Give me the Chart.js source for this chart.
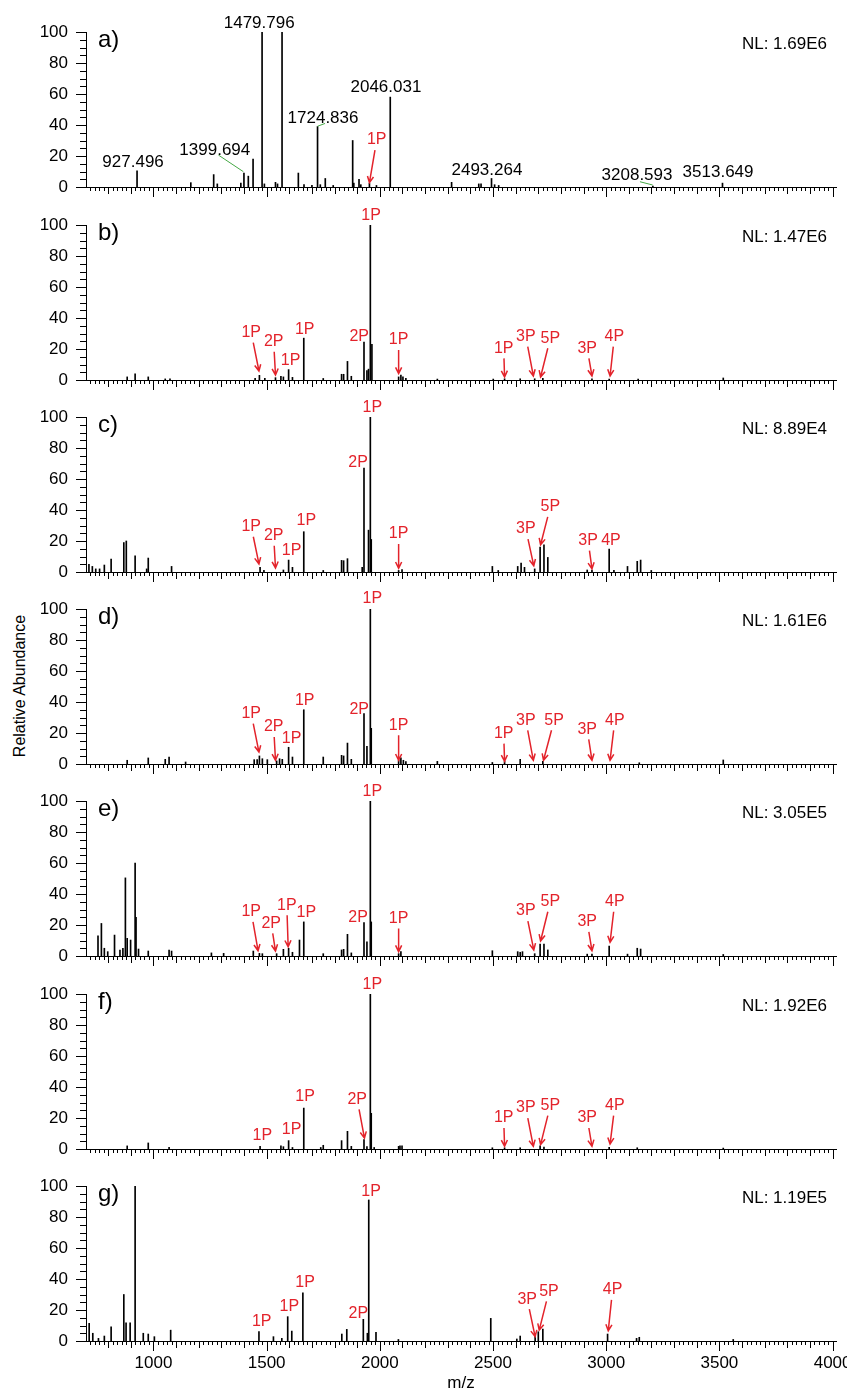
<!DOCTYPE html>
<html>
<head>
<meta charset="utf-8">
<script src="https://cdn.jsdelivr.net/npm/chart.js@4.4.0/dist/chart.umd.min.js"></script>
<style>
  html, body { margin: 0; padding: 0; background: #fff; }
  #wrap { position: relative; width: 847px; height: 1394px; overflow: hidden; font-family: "Liberation Sans", Arial, sans-serif; }
  #wrap canvas { position: absolute; left: 0; }
  #ylab { position: absolute; left: 20px; top: 686px; transform: translate(-50%, -50%) rotate(-90deg); font-size: 16px; white-space: nowrap; color: #000; }
</style>
</head>
<body>
<div id="wrap">
  <div id="ylab">Relative Abundance</div>
</div>
<script>
const FONT = '"Liberation Sans", Arial, sans-serif';
const RED = '#e3232b';
const GREEN = '#45a845';

const panelNames = ['a)', 'b)', 'c)', 'd)', 'e)', 'f)', 'g)'];
const nlValues = ['1.69E6', '1.47E6', '8.89E4', '1.61E6', '3.05E5', '1.92E6', '1.19E5'];
const xTickLabels = [1000, 1500, 2000, 2500, 3000, 3500, 4000];
const yTickLabels = [0, 20, 40, 60, 80, 100];

// peaks: [m/z, relative abundance]
const peaksA = [[927.5,10.4],[1165,2.8],[1266,8],[1282,2],[1386,2.5],[1399.7,9],[1419,7],[1440,18],[1479.8,100],[1490,2],
  [1539,3],[1548,2],[1568,100],[1640,9],[1665,1.5],[1700,1],[1724.8,39],[1737,1.5],[1759,5.5],[1794,1],
  [1880,30],[1885,2.5],[1908,5],[1916,1.5],[1954,2.5],[1985,1],[2046.0,58],[2317,3],[2437,2],[2447,2],
  [2493.3,5.5],[2507,1.5],[2525,1],[3206,0.6],[3513.6,2.5]];
const peaksB = [[884,2],[919,4],[977,2],[1052,0.7],[1073,0.7],[1449,1],[1468,3],[1492,1],[1539,1.5],[1563,2.4],
  [1574,2],[1597,6.7],[1614,1.7],[1664,27],[1750,1],[1831,3.7],[1840,3.7],[1857,12],[1874,2.4],[1930,24.5],
  [1943,6],[1950,7],[1958,100],[1965,23],[2083,2],[2093,3.2],[2102,2],[2115,1],[2254,0.6],[2501,0.6],
  [2551,0.8],[2620,0.8],[2684,0.8],[2720,1],[2937,0.8],[3013,0.6],[3141,0.6],[3517,1.3]];
const peaksC = [[715,5],[730,3.6],[745,2],[762,2],[783,4.5],[813,8.4],[869,19],[880,20],[919,10.5],[970,2],
  [977,9],[1080,3.6],[1471,3],[1488,1],[1574,1.3],[1597,7.7],[1614,3],[1664,26],[1750,1],[1831,7.5],
  [1840,7.3],[1857,8.6],[1922,3],[1930,67],[1950,27],[1958,100],[1962,21],[2083,1],[2098,1.5],[2497,3.6],
  [2523,1],[2609,3.6],[2624,5.8],[2639,3],[2684,2],[2708,16],[2725,17.6],[2742,9.4],[2916,1.3],[2937,1.3],
  [3013,14.8],[3034,1],[3094,3.6],[3137,6.9],[3152,7.7],[3199,1]];
const peaksD = [[884,2.4],[977,3.9],[1052,3],[1069,4.5],[1142,1.3],[1445,2.8],[1458,2.8],[1468,5.2],[1481,3.4],[1503,2.8],
  [1544,2],[1557,3.4],[1569,3],[1597,10.8],[1614,4.5],[1664,35],[1750,4.5],[1831,5.6],[1840,5.2],[1857,13.5],
  [1874,3],[1930,32.5],[1943,11.4],[1958,100],[1962,23],[2083,2.4],[2093,4],[2104,2.4],[2115,1.5],[2254,1.7],
  [2497,1],[2551,1.7],[2620,3],[2720,1.7],[3146,0.8],[3517,2.6]];
const peaksE = [[755,13],[770,21],[783,5],[798,2.8],[828,13.5],[852,3.9],[865,5],[876,50.4],[884,11.4],[899,10.3],
  [919,60],[923,25],[934,4.5],[977,3.2],[1069,3.9],[1080,3.2],[1256,2],[1310,1.7],[1441,3.2],[1468,1.7],
  [1481,1.5],[1544,1.5],[1574,4.3],[1597,5],[1614,2.4],[1645,10.3],[1664,22],[1750,1.5],[1831,3.9],[1840,4.3],
  [1857,14],[1874,2],[1930,21.5],[1943,9.2],[1958,100],[1962,22],[2083,1.5],[2093,2.8],[2497,3.4],[2609,2.8],
  [2620,2.4],[2630,2.8],[2684,1.5],[2708,7.7],[2725,7.7],[2742,3.9],[2916,1.2],[2937,1.2],[3013,6.4],[3094,1.2],
  [3137,5],[3152,4.5],[3517,1]];
const peaksF = [[884,2],[977,3.9],[1069,1],[1471,1.7],[1563,2],[1574,1.5],[1597,5.4],[1614,1],[1664,26.4],[1739,1],
  [1750,2.4],[1831,5.4],[1857,11.4],[1874,1.7],[1930,6],[1943,1.5],[1958,100],[1962,23],[1975,1],[2083,1.7],
  [2089,2],[2098,2],[2497,0.8],[2551,0.8],[2620,0.8],[2708,2],[2725,1.2],[3013,1],[3137,0.8],[3517,0.6]];
const peaksG = [[716,11.4],[732,5],[757,1.7],[783,3.2],[813,9.2],[869,30],[879,11.8],[897,11.8],[919,100],[955,5],
  [977,4.5],[1004,2.8],[1076,7],[1466,6],[1530,2.8],[1567,1.7],[1593,15.7],[1611,6.4],[1660,31],[1832,4.5],
  [1854,7.5],[1927,14],[1945,5],[1951,91],[1983,5.6],[2082,1],[2490,14.6],[2605,1.3],[2620,3.2],[2686,5],
  [2700,6],[2720,7.7],[3006,4.5],[3134,1.7],[3146,2.4],[3561,1]];

// m/z labels of panel a: [text, label m/z, label y, optional leader [m/z, y, m/z, y]]
const massLabelsA = [
  ['927.496', 910, 15.7],
  ['1399.694', 1271, 23.4, [1287, 20.6, 1397, 9.9]],
  ['1479.796', 1467, 105.6],
  ['1724.836', 1749, 44.5, [1725, 39.2, 1758, 41]],
  ['2046.031', 2027, 64],
  ['2493.264', 2473, 11],
  ['3208.593', 3136, 7.7, [3149, 3.4, 3205, 1.3]],
  ['3513.649', 3494, 9.2]
];

// phospho tags: [text, label m/z, label y, arrow tip m/z, arrow tip y]
const tagsA = [['1P', 1986, 30.3, 1954, 2.8]];
const tagsB = [['1P', 1432, 30.5, 1466, 5.8], ['2P', 1531, 24.7, 1539, 3.2], ['1P', 1606, 12.3], ['1P', 1668, 32.7],
  ['2P', 1909, 28], ['1P', 1961, 105.8], ['1P', 2083, 25.8, 2083, 4.1], ['1P', 2547, 20.4, 2551, 1.9],
  ['3P', 2645, 28, 2678, 2.6], ['5P', 2753, 26.9, 2710, 1.9], ['3P', 2916, 20.4, 2937, 2.6], ['4P', 3036, 28, 3017, 2.6]];
const tagsC = [['1P', 1967, 106], ['2P', 1904, 70.6], ['1P', 1432, 29.2, 1466, 5.2], ['2P', 1531, 23.4, 1539, 2.6],
  ['1P', 1610, 13.7], ['1P', 1675, 33], ['1P', 2083, 24.5, 2083, 2.4], ['3P', 2645, 27.7, 2680, 4],
  ['5P', 2753, 42, 2710, 17.6], ['3P', 2920, 20.2, 2937, 2], ['4P', 3021, 20.2]];
const tagsD = [['1P', 1967, 106.7], ['1P', 1432, 32.5, 1466, 7.7], ['2P', 1531, 23.9, 1539, 2.4], ['1P', 1610, 16.3],
  ['1P', 1668, 41], ['2P', 1909, 35.3], ['1P', 2083, 25, 2083, 2.4], ['1P', 2547, 19.6, 2551, 1.7],
  ['3P', 2645, 28.2, 2678, 2.4], ['5P', 2770, 28.2, 2723, 2.4], ['3P', 2916, 22.4, 2937, 2.4], ['4P', 3038, 28.2, 3017, 2.4]];
const tagsE = [['1P', 1967, 105.8], ['1P', 1432, 28.5, 1462, 3.4], ['2P', 1520, 21, 1539, 3.2], ['1P', 1589, 32.8, 1595, 6],
  ['1P', 1675, 28], ['2P', 1904, 24.7], ['1P', 2083, 24.2, 2083, 2.8], ['3P', 2645, 29, 2680, 3.9],
  ['5P', 2753, 35, 2710, 9.7], ['3P', 2916, 22, 2937, 3.4], ['4P', 3038, 35, 3017, 8.8]];
const tagsF = [['1P', 1967, 106], ['1P', 1481, 8.8], ['1P', 1610, 12.4], ['1P', 1670, 33.5], ['2P', 1900, 32, 1932, 7],
  ['1P', 2547, 20, 2551, 1.7], ['3P', 2645, 26.4, 2678, 1.7], ['5P', 2753, 28, 2710, 2.8],
  ['3P', 2916, 20, 2937, 1.7], ['4P', 3038, 28, 3017, 3.2]];
const tagsG = [['1P', 1961, 96.3], ['1P', 1478, 12.5], ['1P', 1600, 22], ['1P', 1670, 38], ['2P', 1905, 17.8],
  ['3P', 2651, 27, 2686, 2.8], ['5P', 2747, 32, 2704, 7], ['4P', 3028, 33, 3009, 6.6]];

const panels = [
  { peaks: peaksA, tags: tagsA, masses: massLabelsA },
  { peaks: peaksB, tags: tagsB },
  { peaks: peaksC, tags: tagsC },
  { peaks: peaksD, tags: tagsD },
  { peaks: peaksE, tags: tagsE },
  { peaks: peaksF, tags: tagsF },
  { peaks: peaksG, tags: tagsG }
];

const panelTops = [32, 225, 417, 609, 801, 994, 1186];
const PAD_TOP = 25, PLOT_H = 155;

function makeDecor(p, i) {
  return {
    id: 'decor' + i,
    afterDraw(chart) {
      const { ctx, chartArea: area, scales: { x, y } } = chart;
      const px = v => x.getPixelForValue(v), py = v => y.getPixelForValue(v);
      ctx.save();
      // tick marks (major / medium / minor)
      ctx.strokeStyle = '#000';
      ctx.lineWidth = 1;
      ctx.beginPath();
      for (let v = 720; v <= 4000; v += 20) {
        const len = v % 500 === 0 ? 10 : (v % 100 === 0 ? 7 : 4);
        const X = Math.round(px(v)) + 0.5;
        ctx.moveTo(X, area.bottom);
        ctx.lineTo(X, area.bottom + len);
      }
      for (let v = 0; v <= 100; v += 5) {
        const len = v % 20 === 0 ? 10 : 6;
        const Y = Math.round(py(v)) + 0.5;
        ctx.moveTo(area.left - len, Y);
        ctx.lineTo(area.left, Y);
      }
      ctx.stroke();

      ctx.fillStyle = '#000';
      ctx.textBaseline = 'middle';
      ctx.textAlign = 'left';
      ctx.font = '24px ' + FONT;
      ctx.fillText(panelNames[i], area.left + 12, area.top + 8);
      ctx.textAlign = 'right';
      ctx.font = '17px ' + FONT;
      ctx.fillText('NL: ' + nlValues[i], area.right - 9, area.top + 12);

      ctx.textAlign = 'center';
      (p.masses || []).forEach(([t, lx, ly, lead]) => {
        ctx.fillStyle = '#000';
        ctx.fillText(t, px(lx), py(ly));
        if (lead) {
          ctx.strokeStyle = GREEN;
          ctx.lineWidth = 1;
          ctx.beginPath();
          ctx.moveTo(px(lead[0]), py(lead[1]));
          ctx.lineTo(px(lead[2]), py(lead[3]));
          ctx.stroke();
        }
      });

      ctx.font = '16px ' + FONT;
      ctx.fillStyle = RED;
      ctx.strokeStyle = RED;
      ctx.lineWidth = 1.5;
      p.tags.forEach(([t, lx, ly, tx, ty]) => {
        const LX = px(lx), LY = py(ly);
        ctx.fillText(t, LX, LY);
        if (tx == null) return;
        const TX = px(tx), TY = py(ty);
        const f = 10 / (TY - LY);
        const SX = LX + (TX - LX) * f, SY = LY + 10;
        const ang = Math.atan2(TY - SY, TX - SX);
        const hl = 7, hw = 0.45;
        ctx.beginPath();
        ctx.moveTo(SX, SY);
        ctx.lineTo(TX, TY);
        ctx.moveTo(TX - hl * Math.cos(ang - hw), TY - hl * Math.sin(ang - hw));
        ctx.lineTo(TX, TY);
        ctx.lineTo(TX - hl * Math.cos(ang + hw), TY - hl * Math.sin(ang + hw));
        ctx.stroke();
      });
      ctx.restore();
    }
  };
}

const wrap = document.getElementById('wrap');
panels.forEach((p, i) => {
  const last = i === panels.length - 1;
  const axisH = last ? 53 : 12;
  const h = PAD_TOP + PLOT_H + axisH;
  const canvas = document.createElement('canvas');
  canvas.width = 847;
  canvas.height = h;
  canvas.style.width = '847px';
  canvas.style.height = h + 'px';
  canvas.style.top = (panelTops[i] - PAD_TOP) + 'px';
  wrap.appendChild(canvas);

  new Chart(canvas, {
    type: 'bar',
    data: {
      datasets: [{
        data: p.peaks.map(([mz, v]) => ({ x: mz, y: v })),
        backgroundColor: '#000',
        barThickness: 1
      }]
    },
    options: {
      responsive: false,
      animation: false,
      devicePixelRatio: 1,
      layout: { padding: { top: PAD_TOP, right: 11, left: 0, bottom: 0 } },
      plugins: { legend: { display: false }, tooltip: { enabled: false } },
      scales: {
        x: {
          type: 'linear',
          min: 702,
          max: 4015,
          offset: false,
          afterBuildTicks: s => { s.ticks = xTickLabels.map(v => ({ value: v })); },
          afterFit: s => { s.height = axisH; s.paddingLeft = 0; s.paddingRight = 0; },
          grid: { display: false, drawTicks: true, tickLength: 10 },
          border: { display: true, color: '#000', width: 1 },
          ticks: {
            display: last, color: '#000', font: { family: FONT, size: 17 }, padding: 2,
            maxRotation: 0, autoSkip: false, callback: v => String(v)
          },
          title: { display: last, text: 'm/z', color: '#000', font: { family: FONT, size: 17 }, padding: { top: 0, bottom: 0 } }
        },
        y: {
          min: 0,
          max: 100,
          afterBuildTicks: s => { s.ticks = yTickLabels.map(v => ({ value: v })); },
          afterFit: s => { s.width = 86; s.paddingTop = 0; s.paddingBottom = 0; },
          grid: { display: false, drawTicks: true, tickLength: 10 },
          border: { display: true, color: '#000', width: 1 },
          ticks: { color: '#000', font: { family: FONT, size: 17 }, padding: 8 }
        }
      }
    },
    plugins: [makeDecor(p, i)]
  });
});
</script>
</body>
</html>
